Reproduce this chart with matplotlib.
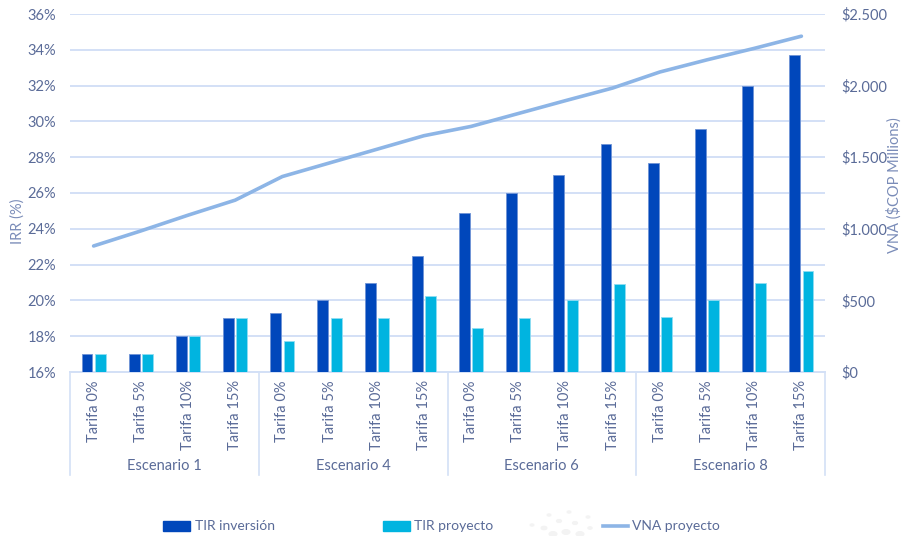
import matplotlib
matplotlib.use("Agg")
import matplotlib.pyplot as plt
from matplotlib.patches import Rectangle, Circle
from matplotlib.lines import Line2D
from matplotlib.ticker import FixedLocator, FuncFormatter

plt.rcParams['font.family'] = ['Lato', 'DejaVu Sans']

# ---- data -------------------------------------------------------------
scenarios = ["Escenario 1", "Escenario 4", "Escenario 6", "Escenario 8"]
tariffs = ["Tarifa 0%", "Tarifa 5%", "Tarifa 10%", "Tarifa 15%"]

tir_inversion = [17.0, 17.0, 18.0, 19.0,
                 19.3, 20.0, 21.0, 22.5,
                 24.9, 26.0, 27.0, 28.75,
                 27.7, 29.55, 32.0, 33.7]
tir_proyecto = [17.0, 17.0, 18.0, 19.0,
                17.75, 19.0, 19.0, 20.23,
                18.45, 19.0, 20.0, 20.93,
                19.1, 20.0, 21.0, 21.65]
vna_proyecto = [880, 985, 1095, 1200,
                1365, 1460, 1555, 1650,
                1715, 1805, 1895, 1983,
                2095, 2180, 2260, 2345]

irr_ticks = [16, 18, 20, 22, 24, 26, 28, 30, 32, 34, 36]
vna_ticks = [0, 500, 1000, 1500, 2000, 2500]

# ---- style ------------------------------------------------------------
C_INV = "#0047BB"
C_PROY = "#00B4E0"
C_VNA = "#8DB5E6"
C_GRID = "#D3E0F6"
C_TEXT = "#5A6B98"
C_TITLE = "#7A8CB8"

W, H = 908, 536
fig = plt.figure(figsize=(W / 100, H / 100), dpi=100)
fig.patch.set_facecolor("white")

L, R, T, B = 70, 825, 14, 372
ax = fig.add_axes([L / W, 1 - B / H, (R - L) / W, (B - T) / H])
ax2 = ax.twinx()

n = len(tir_inversion)
centers = [i + 0.5 for i in range(n)]
bw = 0.23
off = 0.14

ax.bar([c - off for c in centers], [v - irr_ticks[0] for v in tir_inversion],
       bottom=irr_ticks[0], width=bw, color=C_INV, edgecolor="#6F93D6",
       linewidth=0.6, zorder=3)
ax.bar([c + off for c in centers], [v - irr_ticks[0] for v in tir_proyecto],
       bottom=irr_ticks[0], width=bw, color=C_PROY, edgecolor="#8FDDF2",
       linewidth=0.6, zorder=3)

ax2.plot(centers, vna_proyecto, color=C_VNA, linewidth=2.6,
         solid_capstyle="round", solid_joinstyle="round", zorder=4)

ax.set_xlim(0, n)
ax.set_ylim(irr_ticks[0], irr_ticks[-1])
ax2.set_ylim(vna_ticks[0], vna_ticks[-1])

ax.yaxis.set_major_locator(FixedLocator(irr_ticks))
ax.yaxis.set_major_formatter(FuncFormatter(lambda v, p: f"{v:.0f}%"))
ax2.yaxis.set_major_locator(FixedLocator(vna_ticks))
ax2.yaxis.set_major_formatter(
    FuncFormatter(lambda v, p: "$" + f"{v:,.0f}".replace(",", ".")))

ax.grid(axis="y", color=C_GRID, linewidth=1.4, zorder=0)
ax.set_axisbelow(True)

for a in (ax, ax2):
    for s in a.spines.values():
        s.set_visible(False)
ax.spines["bottom"].set_visible(True)
ax.spines["bottom"].set_color(C_GRID)
ax.spines["bottom"].set_linewidth(1.4)

ax.tick_params(axis="y", length=0, pad=10, labelsize=10.5, labelcolor=C_TEXT)
ax2.tick_params(axis="y", length=0, pad=12, labelsize=10.5, labelcolor=C_TEXT)

ax.set_xticks(centers)
ax.set_xticklabels(tariffs * len(scenarios), rotation=90, fontsize=10.5,
                   color=C_TEXT, va="top", ha="center")
ax.tick_params(axis="x", length=0, pad=6)

# two-level category axis: separators and scenario names
xt = ax.get_xaxis_transform()
ax_h = B - T
sep_bottom = -(475 - B) / ax_h
for k in range(len(scenarios) + 1):
    ax.plot([k * 4, k * 4], [0, sep_bottom], transform=xt, color=C_GRID,
            linewidth=1.2, clip_on=False, zorder=1)
for k, name in enumerate(scenarios):
    ax.text(k * 4 + 2, -(466 - B) / ax_h, name, transform=xt, ha="center",
            va="center", fontsize=10.5, color=C_TEXT)

# axis titles
fig.text(18 / W, 1 - 221 / H, "IRR (%)", rotation=90, ha="center",
         va="center", fontsize=10.5, color=C_TITLE)
fig.text(894 / W, 1 - 185 / H, "VNA ($COP Millions)", rotation=90,
         ha="center", va="center", fontsize=10.5, color=C_TITLE)

# legend
ly = 526
fig.add_artist(Rectangle((163 / W, 1 - (ly + 5) / H), 27 / W, 10 / H,
                         transform=fig.transFigure, color=C_INV))
fig.text(195 / W, 1 - ly / H, "TIR inversión", ha="left", va="center",
         fontsize=10, color=C_TEXT)
fig.add_artist(Rectangle((383 / W, 1 - (ly + 5) / H), 27 / W, 10 / H,
                         transform=fig.transFigure, color=C_PROY))
fig.text(414 / W, 1 - ly / H, "TIR proyecto", ha="left", va="center",
         fontsize=10, color=C_TEXT)
fig.add_artist(Line2D([603 / W, 628 / W], [1 - ly / H, 1 - ly / H],
                      transform=fig.transFigure, color=C_VNA, linewidth=2.6))
fig.text(632 / W, 1 - ly / H, "VNA proyecto", ha="left", va="center",
         fontsize=10, color=C_TEXT)

# faint emblem dots near the bottom edge
for (px, py, r) in [(549, 515, 1.8), (569, 512, 1.8), (588, 517, 1.8),
                    (532, 525, 1.8), (544, 528, 2.8), (559, 521, 2.4),
                    (575, 523, 2.4), (590, 528, 2.0), (553, 534, 3.8),
                    (566, 532, 3.8), (580, 534, 3.8)]:
    fig.add_artist(Circle((px / W, 1 - py / H), r / W,
                          transform=fig.transFigure, color="#F3F3F3",
                          zorder=0))

fig.savefig("out.png", dpi=100, facecolor="white")
